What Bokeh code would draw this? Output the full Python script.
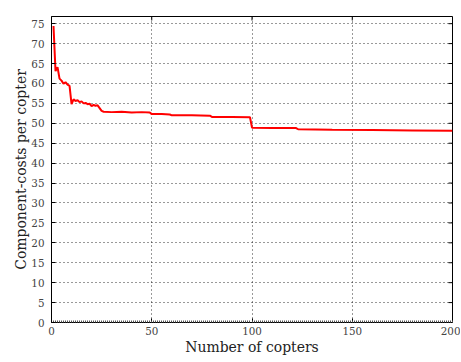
from math import pi
from bokeh.plotting import figure
from bokeh.models import SingleIntervalTicker, Range1d
from bokeh.embed import file_html
from bokeh.resources import INLINE

copters = list(range(1, 27)) + [30, 35, 40, 45, 49, 50, 55, 59, 60, 70, 79, 80,
                                90, 99, 100, 110, 122, 123, 140, 160, 180, 200]
costs = [74.4, 63.1, 64.1, 61.2, 60.7, 59.9, 60.3, 59.7, 59.4, 54.8,
         56.0, 55.6, 55.8, 55.3, 55.5, 55.0, 55.1, 54.8, 54.9, 54.3,
         54.6, 54.4, 54.5, 53.8, 53.1, 52.9,
         52.8, 52.9, 52.7, 52.8, 52.7, 52.3, 52.3, 52.2, 52.0, 52.0,
         51.9, 51.6, 51.6, 51.5, 48.9, 48.8, 48.8, 48.5, 48.4, 48.3, 48.2, 48.1]

x_ticks = [0, 50, 100, 150, 200]
y_ticks = list(range(0, 80, 5))
x_max = 200
y_max = 76.8

FONT = "DejaVu Serif Condensed"

p = figure(frame_width=401, frame_height=306, output_backend="svg",
           toolbar_location=None, x_range=Range1d(0, x_max), y_range=Range1d(0, y_max),
           min_border_left=51, min_border_top=16, min_border_right=8, min_border_bottom=30)
p.background_fill_color = "white"
p.border_fill_color = "white"
p.outline_line_color = "black"
p.outline_line_width = 1

p.line(copters, costs, line_color="red", line_width=2)

xt = SingleIntervalTicker(interval=50, num_minor_ticks=50)
yt = SingleIntervalTicker(interval=5, num_minor_ticks=5)
p.xaxis.ticker = xt
p.yaxis.ticker = yt

for ax in (p.xaxis[0], p.yaxis[0]):
    ax.major_tick_in = 4
    ax.major_tick_out = 0
    ax.minor_tick_in = 0
    ax.minor_tick_out = 0
    ax.axis_line_color = "black"
    ax.major_tick_line_color = "black"
    ax.major_label_text_font = FONT
    ax.major_label_text_font_size = "11.5px"
    ax.major_label_text_color = "#444444"
    ax.axis_label_text_font = FONT
    ax.axis_label_text_font_size = "15.5px"
    ax.axis_label_text_font_style = "normal"
    ax.axis_label_text_color = "#222222"

p.xaxis.minor_tick_in = 2
p.xaxis.minor_tick_line_color = "#555555"
p.xaxis.axis_label = "Number of copters"
p.yaxis.axis_label = "Component-costs per copter"
p.xaxis.major_label_standoff = 4
p.yaxis.major_label_standoff = 7
p.xaxis.axis_label_standoff = 0
p.yaxis.axis_label_standoff = -2

# inward ticks on the right and top spines
p.ray(x=[x_max] * len(y_ticks), y=y_ticks, length=4, length_units="screen",
      angle=pi, line_color="black", line_width=1)
p.ray(x=x_ticks, y=[y_max] * len(x_ticks), length=4, length_units="screen",
      angle=-pi / 2, line_color="black", line_width=1)

p.xgrid.ticker = xt
p.ygrid.ticker = yt
for g in (p.xgrid[0], p.ygrid[0]):
    g.grid_line_color = "black"
    g.grid_line_dash = "1 3"
    g.grid_line_width = 1
    g.grid_line_alpha = 0.8

open("out.html", "w").write(file_html(p, INLINE))
